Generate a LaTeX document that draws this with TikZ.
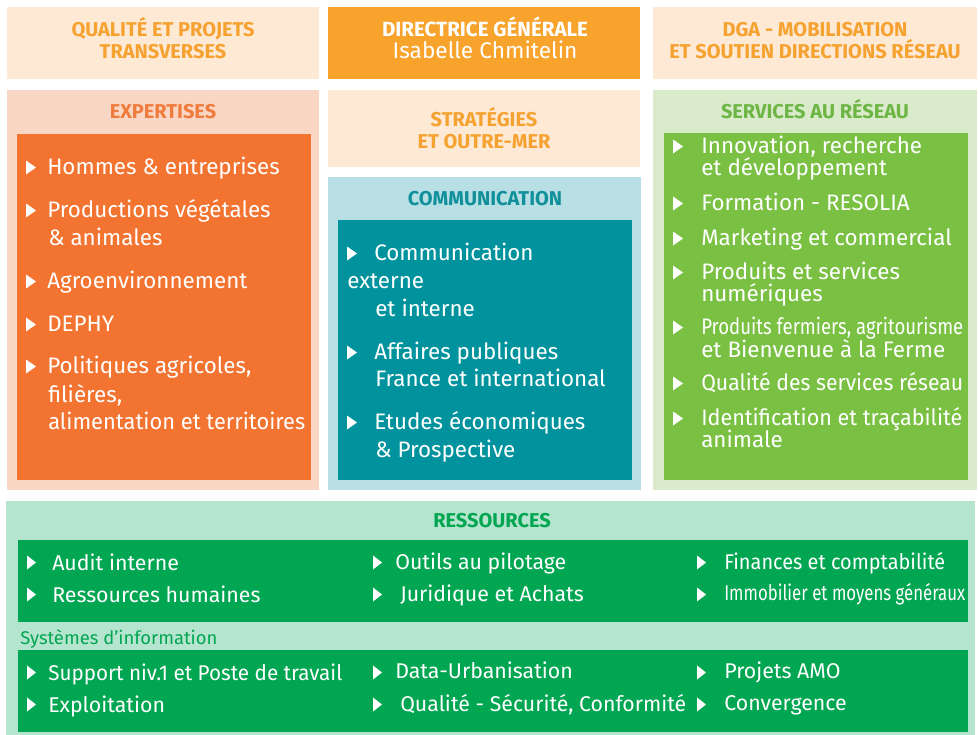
\documentclass[tikz,border=0pt]{standalone}
\usepackage{fontspec}
\usepackage{graphicx}
\setmainfont{Fira Sans}
\usetikzlibrary{positioning}

\definecolor{peach}{HTML}{FDE9D4}
\definecolor{orangetxt}{HTML}{F6A230}
\definecolor{dirfill}{HTML}{F7A32C}
\definecolor{expbg}{HTML}{F9D7C4}
\definecolor{exptxt}{HTML}{EF7B3D}
\definecolor{expfg}{HTML}{F37430}
\definecolor{combg}{HTML}{B8DFE3}
\definecolor{comtxt}{HTML}{10909A}
\definecolor{comfg}{HTML}{00939E}
\definecolor{serbg}{HTML}{DAEBCB}
\definecolor{sertxt}{HTML}{6DB544}
\definecolor{serfg}{HTML}{7AC143}
\definecolor{resbg}{HTML}{B6E5CF}
\definecolor{resfg}{HTML}{00A651}

\newdimen\pxu \pxu=0.75pt
\newcommand\fitw[2]{\resizebox{#1\pxu}{\height}{#2}}
\newcommand\tribul[3][10]{\fill[white] (#2,#3+0.5) -- (#2+#1,#3-6.5) -- (#2,#3-13.5) -- cycle;}

\tikzset{
  head/.style={anchor=base, inner sep=0pt, font=\bfseries\fontsize{15}{18}\selectfont},
  txt/.style={anchor=base west, inner sep=0pt, text=white, font=\fontsize{16.8}{20}\selectfont},
  restxt/.style={txt, font=\fontsize{16}{19}\selectfont}
}

\begin{document}
\begin{tikzpicture}[x=0.75pt,y=-0.75pt]
\useasboundingbox (0,0) rectangle (978,735);

\fill[peach] (7,7) rectangle (319,79);
\fill[dirfill] (328,7) rectangle (640,79);
\fill[peach] (653,7) rectangle (977,79);
\fill[expbg] (7,90) rectangle (319,490);
\fill[expfg] (17,134) rectangle (311,480);
\fill[peach] (328,90) rectangle (640,167);
\fill[combg] (328,177) rectangle (641,490);
\fill[comfg] (338,220) rectangle (632,480);
\fill[serbg] (653,90) rectangle (977,490);
\fill[serfg] (664,133) rectangle (968,480);
\fill[resbg] (6,501) rectangle (975,735);
\fill[resfg] (18,540) rectangle (968,622);
\fill[resfg] (18,650) rectangle (968,732);

\node[head, text=orangetxt] (qual1) at (163,37) {QUALITÉ ET PROJETS};
\node[head, text=orangetxt] (qual2) at (163,59) {TRANSVERSES};
\node[head, text=white, font=\bfseries\fontsize{15.4}{18}\selectfont] (dir1) at (485,37) {DIRECTRICE GÉNÉRALE};
\node[anchor=base, inner sep=0pt, text=white, font=\fontsize{17}{20}\selectfont] (dir2) at (485,59) {Isabelle Chmitelin};
\node[head, text=orangetxt] (dga1) at (815,37) {DGA - MOBILISATION};
\node[head, text=orangetxt] (dga2) at (815,59) {ET SOUTIEN DIRECTIONS RÉSEAU};
\node[head, text=exptxt] (exp) at (163,118) {EXPERTISES};
\node[head, text=orangetxt] (strat1) at (484,127) {STRATÉGIES};
\node[head, text=orangetxt] (strat2) at (484,148) {ET OUTRE-MER};
\node[head, text=comtxt] (com) at (485,205) {COMMUNICATION};
\node[head, text=sertxt] (ser) at (815,118) {SERVICES AU RÉSEAU};
\node[head, text=resfg] (res) at (492,527) {RESSOURCES};
\node[anchor=base west, inner sep=0pt, text=resfg, font=\fontsize{13.8}{16}\selectfont] (si) at (20,644) {Systèmes d’information};

\foreach \x/\y/\t [count=\i] in {47/174/{Hommes \& entreprises}, 47/217/{Productions végétales},
  48/245/{\& animales}, 47/288/{Agroenvironnement}, 47/331/{DEPHY}, 47/373/{Politiques agricoles,},
  48/402/{filières,}, 48/429/{\fitw{257}{alimentation et territoires}}}
  \node[txt] (exp\i) at (\x,\y) {\t};
\foreach \y in {174,217,288,331,373} \tribul{26}{\y};

\foreach \x/\y/\t [count=\i] in {374/260/{Communication}, 347/288/{externe}, 375/316/{et interne},
  374/359/{Affaires publiques}, 375/386/{France et international}, 374/429/{Etudes économiques},
  375/457/{\& Prospective}}
  \node[txt] (com\i) at (\x,\y) {\t};
\foreach \y in {260,359,429} \tribul{347}{\y};

\foreach \y/\t [count=\i] in {153/{Innovation, recherche}, 175/{et développement}, 210/{Formation - RESOLIA},
  245/{Marketing et commercial}, 279/{Produits et services}, 301/{numériques},
  334/{\fitw{262}{Produits fermiers, agritourisme}}, 357/{et Bienvenue à la Ferme},
  390/{\fitw{262}{Qualité des services réseau}}, 425/{\fitw{261}{Identification et traçabilité}}, 447/{animale}}
  \node[txt] (ser\i) at (701,\y) {\t};
\foreach \y in {153,210,245,279,334,390,425} \tribul{673}{\y};

\foreach \x/\y/\t [count=\i] in {52/570/{Audit interne}, 52/602/{Ressources humaines},
  48/680/{\fitw{294}{Support niv.1 et Poste de travail}}, 48/712/{Exploitation},
  395/569/{Outils au pilotage}, 400/601/{Juridique et Achats}, 395/678/{Data-Urbanisation},
  400/711/{\fitw{286}{Qualité - Sécurité, Conformité}}, 724/569/{\fitw{221}{Finances et comptabilité}},
  724/600/{\fitw{241}{Immobilier et moyens généraux}}, 724/678/{Projets AMO}, 724/710/{Convergence}}
  \node[restxt] (res\i) at (\x,\y) {\t};
\foreach \x in {27,373,697}
  \foreach \y in {570,602,680,712} \tribul[9]{\x}{\y-1};
\end{tikzpicture}
\end{document}
